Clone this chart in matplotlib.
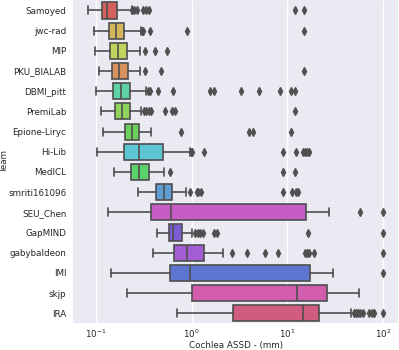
import matplotlib
matplotlib.use("Agg")
import matplotlib.pyplot as plt
import seaborn as sns

sns.set_style("darkgrid")
plt.rcParams['font.family'] = ['DejaVu Sans']

teams = ["Samoyed", "jwc-rad", "MIP", "PKU_BIALAB", "DBMI_pitt", "PremiLab",
         "Epione-Liryc", "Hi-Lib", "MedICL", "smriti161096", "SEU_Chen",
         "GapMIND", "gabybaldeon", "IMI", "skjp", "IRA"]

whislo = [0.0826, 0.0953, 0.097, 0.107, 0.099, 0.112, 0.118, 0.103, 0.155, 0.271,
          0.133, 0.430, 0.394, 0.144, 0.212, 0.700]
q1 = [0.115, 0.136, 0.141, 0.146, 0.152, 0.157, 0.200, 0.197, 0.231, 0.427,
      0.376, 0.573, 0.652, 0.586, 1.016, 2.69]
med = [0.131, 0.163, 0.171, 0.175, 0.184, 0.188, 0.237, 0.278, 0.284, 0.516,
       0.611, 0.641, 0.889, 0.970, 12.5, 14.5]
q3 = [0.165, 0.197, 0.210, 0.217, 0.225, 0.224, 0.280, 0.496, 0.355, 0.625,
      15.7, 0.789, 1.35, 17.2, 25.9, 21.2]
whishi = [0.235, 0.293, 0.291, 0.291, 0.336, 0.298, 0.378, 0.962, 0.516, 0.875,
          27.4, 1.0, 2.13, 30.1, 55.7, 46.4]
fliers = [
    [0.240, 0.252, 0.265, 0.308, 0.334, 0.361, 12.05, 14.8],
    [0.30, 0.31, 0.365, 0.89, 14.8],
    [0.326, 0.410, 0.556],
    [0.328, 0.481, 14.8],
    [0.347, 0.364, 0.441, 0.637, 1.55, 1.70, 3.24, 5.09, 8.42, 11.0, 12.1],
    [0.315, 0.336, 0.355, 0.376, 0.521, 0.621, 0.673, 12.1],
    [0.764, 3.92, 4.38, 11.0],
    [0.98, 1.0, 1.34, 8.96, 12.2, 14.4, 15.3, 16.1, 17.0],
    [0.593, 8.96, 12.1],
    [0.96, 1.146, 1.17, 1.25, 9.1, 11.3, 12.3, 12.9],
    [57.8, 100.0],
    [1.07, 1.15, 1.23, 1.31, 1.71, 1.85, 16.6, 100.0],
    [2.65, 3.76, 5.82, 7.94, 15.1, 15.9, 16.9, 18.8, 100.0],
    [100.0],
    [],
    [50.1, 52.4, 54.8, 58.0, 61.2, 71.3, 76.0, 80.8, 100.0],
]

colors = ["#d5605c", "#d4b65c", "#c3d45c", "#d6915c", "#5cd2a6", "#8ed45c",
          "#6ad25c", "#5cc6d2", "#5cd26a", "#5c9ed2", "#c75cc9", "#7b5cd2",
          "#a45cd2", "#5c76d2", "#d25cae", "#d25c80"]

fig = plt.figure(figsize=(3.99, 3.5), dpi=100)
ax = fig.add_axes([0.184, 0.076, 0.813, 0.923])

stats = []
for i in range(len(teams)):
    stats.append(dict(whislo=whislo[i], q1=q1[i], med=med[i], q3=q3[i],
                      whishi=whishi[i], fliers=fliers[i], label=teams[i]))

gray = "#4f4f4f"
bp = ax.bxp(stats, positions=list(range(len(teams))), widths=0.8,
            orientation='horizontal', patch_artist=True,
            boxprops=dict(edgecolor=gray, linewidth=1.2),
            whiskerprops=dict(color=gray, linewidth=1.2),
            capprops=dict(color=gray, linewidth=1.2),
            medianprops=dict(color=gray, linewidth=1.2),
            flierprops=dict(marker='d', markerfacecolor=gray, markeredgecolor=gray,
                            markersize=4, linestyle='none'))
for patch, c in zip(bp['boxes'], colors):
    patch.set_facecolor(c)

ax.set_xscale('log')
ax.set_ylim(len(teams) - 0.5, -0.5)
ax.set_yticks(range(len(teams)))
ax.set_yticklabels(teams)
ax.grid(False, axis='y')
ax.grid(True, axis='x', which='major', color='white', linewidth=1)
ax.tick_params(axis='y', labelsize=6.3, length=0, pad=5)
ax.tick_params(axis='x', labelsize=6.3, length=0, pad=3)
ax.set_xlabel("Cochlea ASSD - (mm)", fontsize=6.3, labelpad=1)
ax.set_ylabel("Team", fontsize=6.3)
ax.yaxis.set_label_coords(-0.198, 0.5)
for s in ax.spines.values():
    s.set_visible(False)

fig.savefig("out.png", dpi=100)
